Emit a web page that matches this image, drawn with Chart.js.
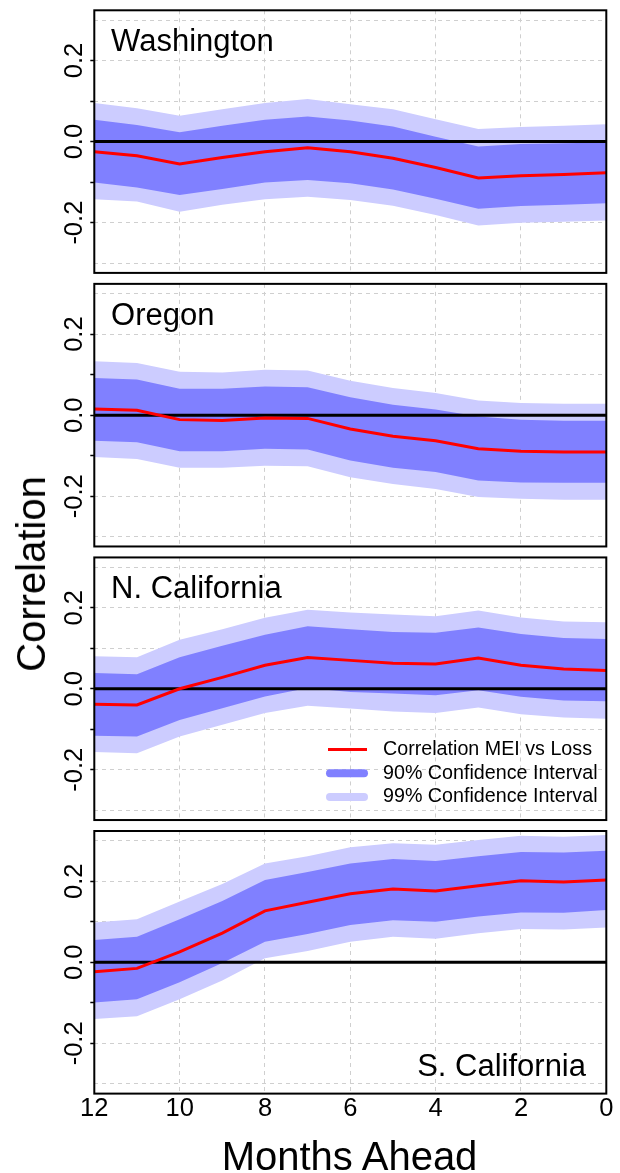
<!DOCTYPE html>
<html><head><meta charset="utf-8">
<script src="https://cdn.jsdelivr.net/npm/chart.js@4.4.1/dist/chart.umd.min.js"></script>
<style>
html,body{margin:0;padding:0;background:#fff;}
#wrap{position:relative;width:620px;height:1173px;overflow:hidden;font-family:"Liberation Sans",Arial,sans-serif;}
canvas{position:absolute;left:0;top:0;}
.ttl{position:absolute;white-space:nowrap;color:#000;line-height:1;font-size:40px;}
</style></head><body>
<div id="wrap">
<canvas id="c0" width="620" height="1173"></canvas>
<canvas id="c1" width="620" height="1173"></canvas>
<canvas id="c2" width="620" height="1173"></canvas>
<canvas id="c3" width="620" height="1173"></canvas>
<div class="ttl" id="ylab" style="left:31px;top:574px;transform:translate(-50%,-50%) rotate(-90deg);">Correlation</div>
<div class="ttl" id="xlab" style="left:349.5px;top:1136px;transform:translateX(-50%);">Months Ahead</div>
</div>
<script>
// ---- data ----
const months = [12,11,10,9,8,7,6,5,4,3,2,1,0];
const panelNames = ['Washington','Oregon','N. California','S. California'];
const legendLabels = ['Correlation MEI vs Loss','90% Confidence Interval','99% Confidence Interval'];
const yLabelValues = [-0.2, 0.0, 0.2];

const waCorr = [-0.025,-0.035,-0.055,-0.039,-0.025,-0.015,-0.025,-0.041,-0.064,-0.090,-0.084,-0.081,-0.077];
const waHi90 = [0.054,0.041,0.023,0.039,0.054,0.062,0.052,0.037,0.012,-0.012,-0.006,-0.004,-0.002];
const waLo90 = [-0.101,-0.113,-0.132,-0.117,-0.101,-0.095,-0.103,-0.118,-0.141,-0.166,-0.159,-0.156,-0.152];
const waHi99 = [0.095,0.082,0.064,0.080,0.095,0.105,0.092,0.080,0.055,0.031,0.036,0.039,0.043];
const waLo99 = [-0.142,-0.148,-0.173,-0.156,-0.142,-0.136,-0.144,-0.158,-0.181,-0.207,-0.200,-0.198,-0.195];

const orCorr = [0.015,0.012,-0.011,-0.013,-0.007,-0.008,-0.034,-0.052,-0.063,-0.083,-0.089,-0.091,-0.091];
const orHi90 = [0.092,0.088,0.065,0.065,0.071,0.069,0.044,0.026,0.014,-0.003,-0.011,-0.014,-0.014];
const orLo90 = [-0.063,-0.067,-0.089,-0.089,-0.083,-0.085,-0.112,-0.130,-0.140,-0.161,-0.166,-0.167,-0.167];
const orHi99 = [0.133,0.129,0.107,0.105,0.112,0.110,0.085,0.067,0.055,0.036,0.030,0.028,0.028];
const orLo99 = [-0.103,-0.108,-0.130,-0.130,-0.125,-0.126,-0.153,-0.170,-0.182,-0.202,-0.206,-0.209,-0.209];

const ncCorr = [-0.038,-0.040,0.000,0.028,0.058,0.077,0.070,0.063,0.061,0.076,0.058,0.049,0.045];
const ncHi90 = [0.039,0.036,0.078,0.106,0.133,0.154,0.147,0.140,0.138,0.151,0.135,0.125,0.123];
const ncLo90 = [-0.116,-0.118,-0.077,-0.048,-0.019,0.002,-0.008,-0.012,-0.016,-0.004,-0.020,-0.029,-0.031];
const ncHi99 = [0.080,0.078,0.121,0.147,0.175,0.195,0.188,0.183,0.179,0.193,0.176,0.166,0.164];
const ncLo99 = [-0.156,-0.159,-0.118,-0.089,-0.060,-0.042,-0.049,-0.056,-0.060,-0.046,-0.063,-0.071,-0.074];

const scCorr = [-0.023,-0.015,0.026,0.072,0.127,0.148,0.169,0.181,0.176,0.189,0.201,0.198,0.203];
const scHi90 = [0.055,0.063,0.106,0.151,0.203,0.223,0.244,0.255,0.250,0.262,0.272,0.271,0.275];
const scLo90 = [-0.099,-0.091,-0.049,-0.002,0.051,0.070,0.092,0.104,0.100,0.113,0.123,0.122,0.129];
const scHi99 = [0.098,0.106,0.150,0.193,0.244,0.262,0.284,0.294,0.290,0.302,0.312,0.310,0.314];
const scLo99 = [-0.140,-0.133,-0.091,-0.045,0.010,0.028,0.051,0.063,0.058,0.072,0.082,0.081,0.086];

const panels = [
  {name: panelNames[0], corr: waCorr, hi90: waHi90, lo90: waLo90, hi99: waHi99, lo99: waLo99},
  {name: panelNames[1], corr: orCorr, hi90: orHi90, lo90: orLo90, hi99: orHi99, lo99: orLo99},
  {name: panelNames[2], corr: ncCorr, hi90: ncHi90, lo90: ncLo90, hi99: ncHi99, lo99: ncLo99, legend: true},
  {name: panelNames[3], corr: scCorr, hi90: scHi90, lo90: scLo90, hi99: scHi99, lo99: scLo99, nameAtBottom: true}
];

// ---- layout / style ----
const FONT = '"Liberation Sans", Arial, sans-serif';
const W = 620, H = 1173;
const AREA_LEFT = 94.3, AREA_RIGHT = 606.3, AREA_H = 262.6, TOP0 = 10.3, STEP = 273.57;
const XAXIS_H = 40;
const RED = '#ff0000', DARK = '#8080ff', LIGHT = '#ccccff', GRID = '#cfcfcf';

function pts(arr){ return months.map((m,i)=>({x:m, y:arr[i]})); }

const panelDeco = {
  id: 'panelDeco',
  beforeDatasetDraw(chart, args){
    if (args.index !== 0) return;
    const a = chart.chartArea, y = chart.scales.y, ctx = chart.ctx;
    const py = y.getPixelForValue(0);
    ctx.save();
    ctx.beginPath(); ctx.rect(a.left, a.top, a.width, a.height); ctx.clip();
    ctx.strokeStyle = '#000'; ctx.lineWidth = 3;
    ctx.beginPath(); ctx.moveTo(a.left, py); ctx.lineTo(a.right, py); ctx.stroke();
    ctx.restore();
  },
  afterDraw(chart, args, o){
    const a = chart.chartArea, y = chart.scales.y, ctx = chart.ctx;
    ctx.save();
    ctx.strokeStyle = '#000'; ctx.lineWidth = 2;
    ctx.strokeRect(a.left, a.top, a.width, a.height);
    ctx.fillStyle = '#000';
    ctx.font = '25.5px ' + FONT; ctx.textAlign = 'center'; ctx.textBaseline = 'alphabetic';
    yLabelValues.forEach(v => {
      const py = y.getPixelForValue(v);
      ctx.save(); ctx.translate(a.left - 12.3, py); ctx.rotate(-Math.PI/2);
      ctx.fillText(v.toFixed(1), 0, 0); ctx.restore();
    });
    ctx.font = '31px ' + FONT;
    if (o.nameAtBottom) { ctx.textAlign = 'right'; ctx.fillText(o.name, a.right - 20.3, a.bottom - 17.6); }
    else { ctx.textAlign = 'left'; ctx.fillText(o.name, a.left + 16.8, a.top + 40.8); }
    if (o.legend) {
      const ds = chart.data.datasets;
      const rows = [
        {label: ds[0].label, color: ds[0].borderColor, w: 3, cap: 'butt', x1: 328, x2: 367, dy: 192},
        {label: ds[1].label, color: ds[1].backgroundColor, w: 8, cap: 'round', x1: 330, x2: 364, dy: 215.8},
        {label: ds[3].label, color: ds[3].backgroundColor, w: 8, cap: 'round', x1: 330, x2: 364, dy: 239.5}
      ];
      ctx.font = '19.7px ' + FONT; ctx.textAlign = 'left'; ctx.textBaseline = 'middle';
      rows.forEach(r => {
        const yy = a.top + r.dy;
        ctx.strokeStyle = r.color; ctx.lineWidth = r.w; ctx.lineCap = r.cap;
        ctx.beginPath(); ctx.moveTo(r.x1, yy); ctx.lineTo(r.x2, yy); ctx.stroke();
        ctx.fillStyle = '#000'; ctx.fillText(r.label, 383, yy);
      });
    }
    ctx.restore();
  }
};

panels.forEach((p, i) => {
  const isLast = i === panels.length - 1;
  const top = TOP0 + i * STEP;
  const bottomPad = H - (top + AREA_H) - (isLast ? XAXIS_H : 0);
  new Chart(document.getElementById('c' + i), {
    type: 'line',
    data: { datasets: [
      {label: legendLabels[0], data: pts(p.corr), borderColor: RED, borderWidth: 3, pointRadius: 0, fill: false, order: 1, tension: 0},
      {label: legendLabels[1], data: pts(p.hi90), borderWidth: 0, borderColor: 'rgba(0,0,0,0)', backgroundColor: DARK, pointRadius: 0, fill: '+1', order: 2, tension: 0},
      {label: '', data: pts(p.lo90), borderWidth: 0, borderColor: 'rgba(0,0,0,0)', pointRadius: 0, fill: false, order: 2, tension: 0},
      {label: legendLabels[2], data: pts(p.hi99), borderWidth: 0, borderColor: 'rgba(0,0,0,0)', backgroundColor: LIGHT, pointRadius: 0, fill: '+1', order: 3, tension: 0},
      {label: '', data: pts(p.lo99), borderWidth: 0, borderColor: 'rgba(0,0,0,0)', pointRadius: 0, fill: false, order: 3, tension: 0}
    ]},
    options: {
      responsive: false, animation: false, devicePixelRatio: 1,
      events: [],
      layout: { padding: { left: 0, right: W - AREA_RIGHT, top: top, bottom: bottomPad } },
      plugins: {
        legend: { display: false }, tooltip: { enabled: false },
        panelDeco: { name: p.name, legend: !!p.legend, nameAtBottom: !!p.nameAtBottom }
      },
      scales: {
        x: {
          type: 'linear', min: 0, max: 12, reverse: true,
          ticks: { stepSize: 2, display: isLast, includeBounds: false, autoSkip: false, maxRotation: 0, minRotation: 0,
                   padding: 0, color: '#000', font: { family: FONT, size: 25.5, lineHeight: 1.2 },
                   callback: v => String(v) },
          grid: { color: GRID, lineWidth: 1, drawTicks: false },
          border: { display: false, dash: [4, 4] },
          afterFit: s => { s.height = isLast ? XAXIS_H : 0; }
        },
        y: {
          type: 'linear', min: -0.324, max: 0.324,
          ticks: { stepSize: 0.1, display: false, includeBounds: false },
          grid: { color: GRID, lineWidth: 1, drawTicks: true, tickLength: 4, tickWidth: 1.5,
                  tickBorderDash: [],
                  tickColor: c => (c.tick && Math.abs(c.tick.value) < 0.25) ? '#000' : 'rgba(0,0,0,0)' },
          border: { display: false, dash: [4, 4] },
          afterFit: s => { s.width = AREA_LEFT; }
        }
      }
    },
    plugins: [panelDeco]
  });
});
</script>
</body></html>
